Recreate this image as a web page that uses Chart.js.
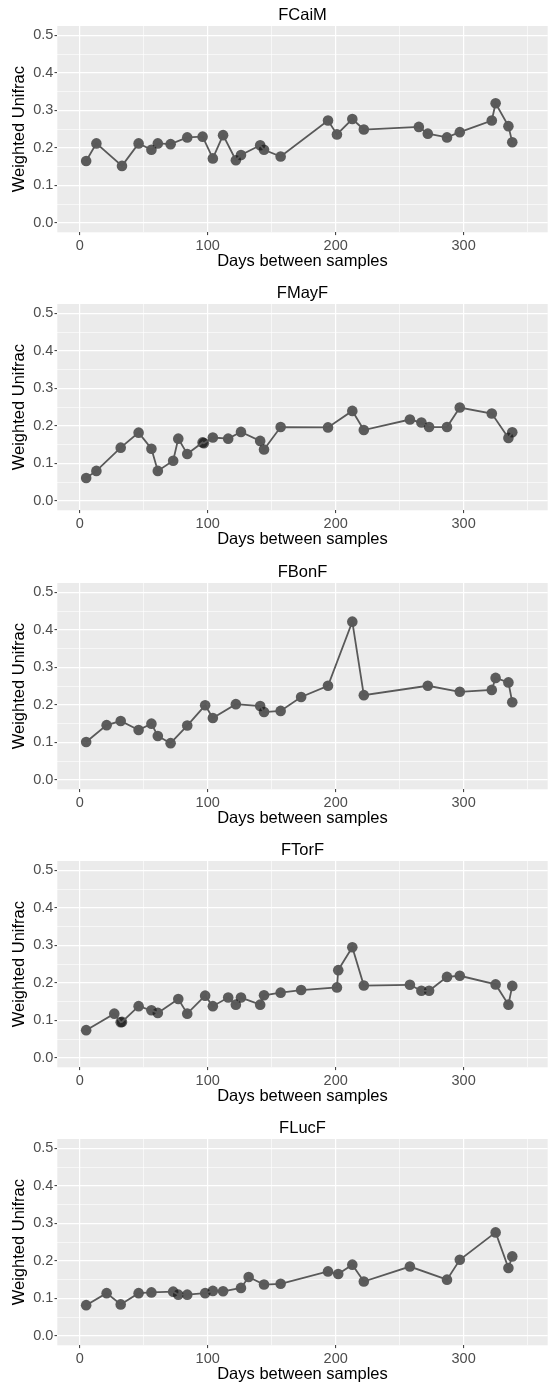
<!DOCTYPE html>
<html><head><meta charset="utf-8">
<script src="https://cdn.jsdelivr.net/npm/chart.js@4/dist/chart.umd.min.js"></script>
<style>
html,body{margin:0;padding:0;background:#fff;overflow:hidden;width:553px;height:1385px;}
.p{position:absolute;left:0;width:553px;height:278px;}
</style></head><body>
<script>
const panelTitles = ['FCaiM', 'FMayF', 'FBonF', 'FTorF', 'FLucF'];

const fcaimDays = [5, 13, 33, 46, 56, 61, 71, 84, 96, 104, 112, 122, 126, 141, 144, 157, 194, 201, 213, 222, 265, 272, 287, 297, 322, 325, 335, 338];
const fcaimValues = [0.165, 0.212, 0.152, 0.212, 0.195, 0.212, 0.210, 0.228, 0.230, 0.172, 0.234, 0.167, 0.181, 0.207, 0.195, 0.177, 0.273, 0.236, 0.277, 0.249, 0.256, 0.238, 0.228, 0.242, 0.273, 0.319, 0.258, 0.215];

const fmayfDays = [5, 13, 32, 46, 56, 61, 73, 77, 84, 96, 97, 104, 116, 126, 141, 144, 157, 194, 213, 222, 258, 267, 273, 287, 297, 322, 335, 338];
const fmayfValues = [0.061, 0.080, 0.142, 0.182, 0.139, 0.080, 0.107, 0.166, 0.125, 0.156, 0.154, 0.169, 0.166, 0.184, 0.160, 0.137, 0.197, 0.196, 0.240, 0.189, 0.217, 0.209, 0.197, 0.197, 0.249, 0.233, 0.168, 0.183];

const fbonfDays = [5, 21, 32, 46, 56, 61, 71, 84, 98, 104, 122, 141, 144, 157, 173, 194, 213, 222, 272, 297, 322, 325, 335, 338];
const fbonfValues = [0.101, 0.146, 0.157, 0.133, 0.150, 0.117, 0.098, 0.145, 0.199, 0.165, 0.202, 0.197, 0.181, 0.184, 0.221, 0.251, 0.422, 0.226, 0.251, 0.235, 0.240, 0.272, 0.260, 0.207];

const ftorfDays = [5, 27, 32, 33, 46, 56, 61, 77, 84, 98, 104, 116, 122, 126, 141, 144, 157, 173, 201, 202, 213, 222, 258, 267, 273, 287, 297, 325, 335, 338];
const ftorfValues = [0.074, 0.118, 0.095, 0.096, 0.138, 0.127, 0.120, 0.157, 0.118, 0.166, 0.138, 0.161, 0.142, 0.161, 0.142, 0.167, 0.174, 0.181, 0.188, 0.234, 0.295, 0.193, 0.195, 0.179, 0.179, 0.216, 0.219, 0.196, 0.142, 0.192];

const flucfDays = [5, 21, 32, 46, 56, 73, 77, 84, 98, 104, 112, 126, 132, 144, 157, 194, 202, 213, 222, 258, 287, 297, 325, 335, 338];
const flucfValues = [0.082, 0.114, 0.084, 0.114, 0.116, 0.118, 0.110, 0.110, 0.114, 0.120, 0.119, 0.128, 0.157, 0.137, 0.139, 0.172, 0.165, 0.190, 0.145, 0.185, 0.150, 0.203, 0.276, 0.181, 0.212];

const xMajorTicks = [0, 100, 200, 300];
const xTickLabels = ['0', '100', '200', '300'];
const xMinorTicks = [50, 150, 250, 350];
const yMajorTicks = [0, 0.1, 0.2, 0.3, 0.4, 0.5];
const yTickLabels = ['0.0', '0.1', '0.2', '0.3', '0.4', '0.5'];
const yMinorTicks = [0.05, 0.15, 0.25, 0.35, 0.45];

const xAxisTitle = 'Days between samples';
const yAxisTitle = 'Weighted Unifrac';

const panelDays = [fcaimDays, fmayfDays, fbonfDays, ftorfDays, flucfDays];
const panelValues = [fcaimValues, fmayfValues, fbonfValues, ftorfValues, flucfValues];

const FONT = "'Liberation Sans', Arial, sans-serif";
const near = (a, b) => Math.abs(a - b) < 1e-9;
const xAll = xMajorTicks.concat(xMinorTicks).sort((a, b) => a - b);
const yAll = yMajorTicks.concat(yMinorTicks).sort((a, b) => a - b);
const xLabelOf = v => { const i = xMajorTicks.findIndex(t => near(t, v)); return i >= 0 ? xTickLabels[i] : ''; };
const yLabelOf = v => { const i = yMajorTicks.findIndex(t => near(t, v)); return i >= 0 ? yTickLabels[i] : ''; };
const isMajX = v => xMajorTicks.some(t => near(t, v));
const isMajY = v => yMajorTicks.some(t => near(t, v));

const panelBg = {
  id: 'panelBg',
  beforeDraw(chart) {
    const a = chart.chartArea, c = chart.ctx;
    c.save(); c.fillStyle = '#EBEBEB';
    c.fillRect(a.left, a.top, a.right - a.left, a.bottom - a.top);
    c.restore();
  }
};

panelTitles.forEach((title, i) => {
  const div = document.createElement('div');
  div.className = 'p';
  div.style.top = (i * 278.35) + 'px';
  const cv = document.createElement('canvas');
  cv.width = 553; cv.height = 278;
  cv.style.width = '553px'; cv.style.height = '278px';
  div.appendChild(cv);
  document.body.appendChild(div);
  const pts = panelDays[i].map((d, k) => ({x: d, y: panelValues[i][k]}));
  new Chart(cv, {
    type: 'scatter',
    data: { datasets: [
      { data: pts, showLine: true, borderColor: '#595959', borderWidth: 1.8, pointRadius: 0, pointHoverRadius: 0, fill: false, tension: 0 },
      { data: pts, showLine: false, pointRadius: 5.3, pointHoverRadius: 5.3, pointBackgroundColor: 'rgba(20,20,20,0.67)', pointBorderWidth: 0, borderColor: 'rgba(0,0,0,0)' }
    ]},
    options: {
      responsive: false, animation: false, devicePixelRatio: 1,
      layout: { padding: 0 },
      events: [],
      plugins: {
        legend: { display: false }, tooltip: { enabled: false },
        title: { display: true, text: title, fullSize: false, color: '#000',
          font: { family: FONT, size: 16.5, weight: 'normal', lineHeight: 1.2 },
          padding: { top: 5.1, bottom: 1.1 } }
      },
      scales: {
        x: {
          type: 'linear', position: 'bottom', min: -17.55, max: 365.7,
          afterBuildTicks: s => { s.ticks = xAll.map(v => ({ value: v })); },
          afterFit: s => { s.height = 45.7; },
          border: { display: false },
          grid: { color: '#FFFFFF', lineWidth: c => (c.tick && isMajX(c.tick.value)) ? 1.2 : 0.6,
            tickColor: c => (c.tick && isMajX(c.tick.value)) ? '#333333' : 'rgba(0,0,0,0)',
            tickLength: 2.8, tickWidth: 1, drawTicks: true },
          ticks: { callback: v => xLabelOf(v), color: '#4D4D4D', font: { family: FONT, size: 14.5 }, padding: 1.7, maxRotation: 0, autoSkip: false },
          title: { display: true, text: xAxisTitle, color: '#000', font: { family: FONT, size: 16.5, lineHeight: 1.2 }, padding: { top: 0, bottom: 6.4 } }
        },
        y: {
          type: 'linear', position: 'left', min: -0.025, max: 0.525,
          afterBuildTicks: s => { s.ticks = yAll.map(v => ({ value: v })); },
          afterFit: s => { s.width = 57.3; },
          border: { display: false },
          grid: { color: '#FFFFFF', lineWidth: c => (c.tick && isMajY(c.tick.value)) ? 1.2 : 0.6,
            tickColor: c => (c.tick && isMajY(c.tick.value)) ? '#333333' : 'rgba(0,0,0,0)',
            tickLength: 2.8, tickWidth: 1, drawTicks: true },
          ticks: { callback: v => yLabelOf(v), color: '#4D4D4D', font: { family: FONT, size: 14.5 }, padding: 1.2, autoSkip: false },
          title: { display: true, text: yAxisTitle, color: '#000', font: { family: FONT, size: 16.5, lineHeight: 1.2 }, padding: { top: 9.4, bottom: 0 } }
        }
      }
    },
    plugins: [panelBg]
  });
});
</script>
</body></html>
